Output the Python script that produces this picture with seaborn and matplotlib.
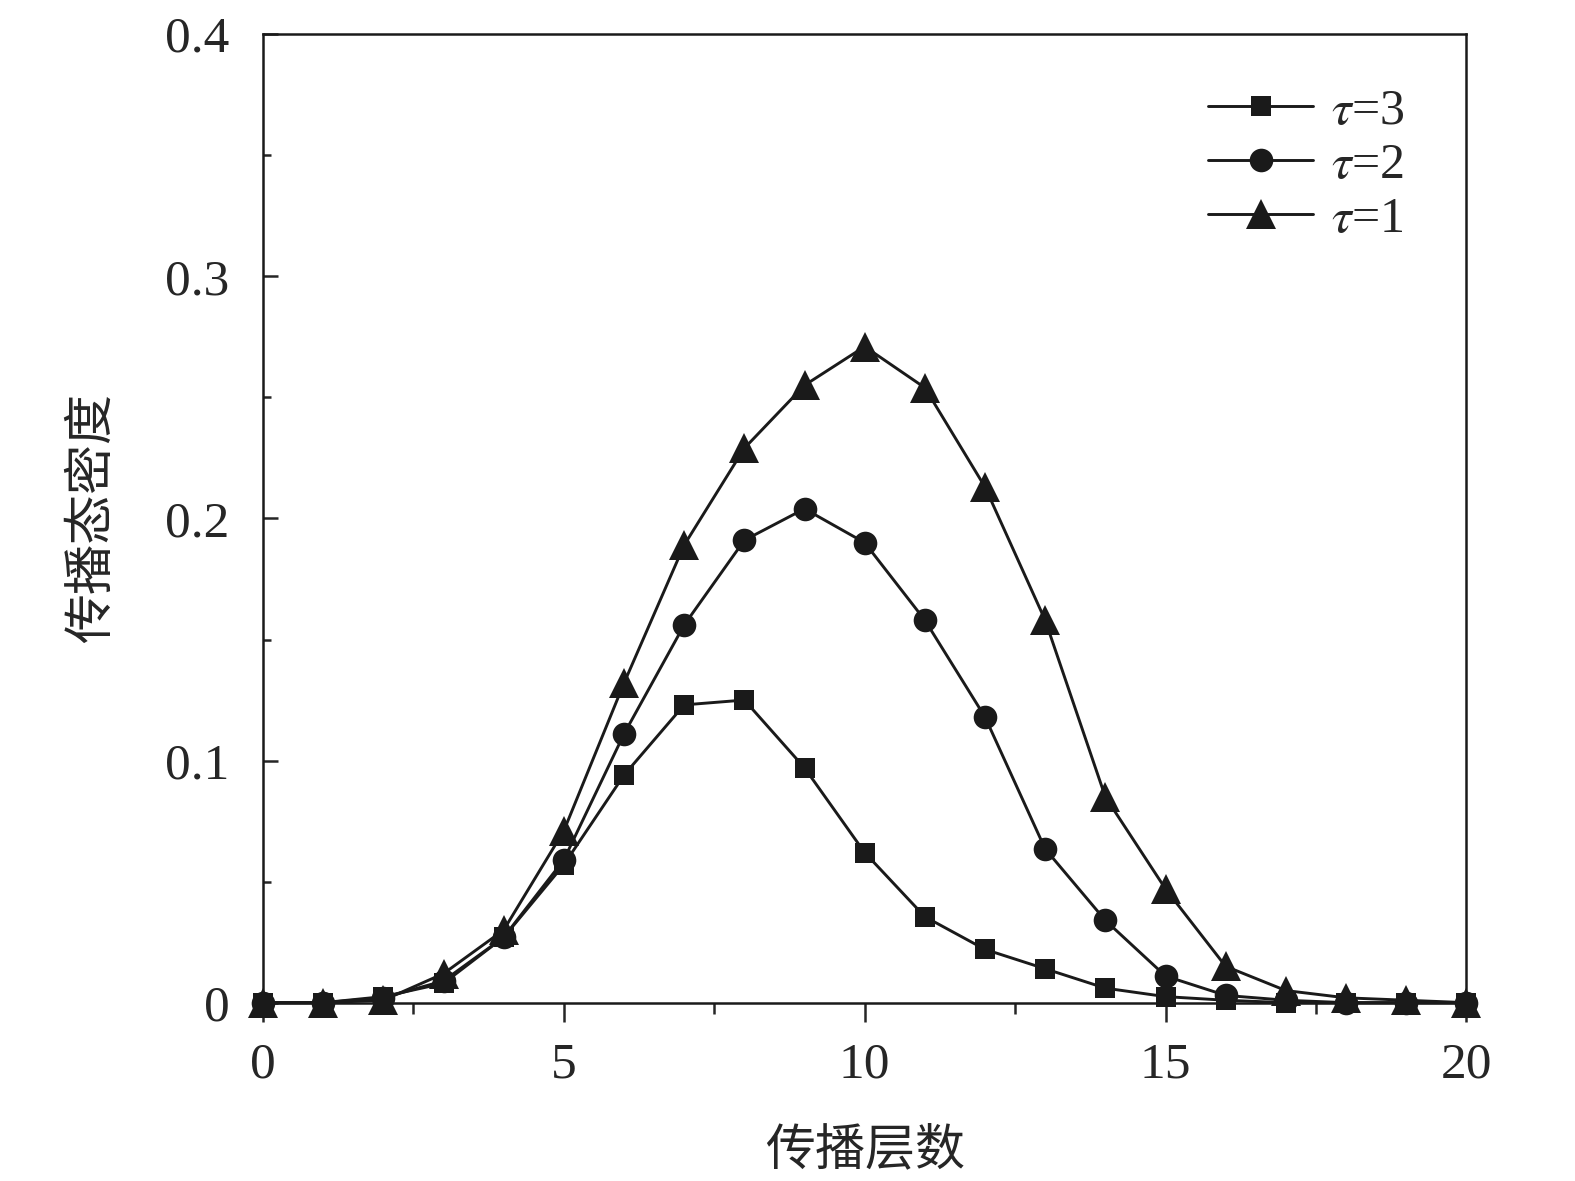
import numpy as np
import pandas as pd
import seaborn as sns
import matplotlib.pyplot as plt
from matplotlib.ticker import MultipleLocator, FixedLocator, FixedFormatter

# 传播层数
layers = list(range(21))

# tau = 3 (squares)
tau3 = [0.0, 0.0, 0.0025, 0.008, 0.027, 0.057, 0.094, 0.123, 0.125, 0.097, 0.062,
        0.0355, 0.022, 0.014, 0.006, 0.0025, 0.001, 0.0, 0.0, 0.0, 0.0]
# tau = 2 (circles)
tau2 = [0.0, 0.0, 0.002, 0.009, 0.027, 0.059, 0.111, 0.156, 0.191, 0.204, 0.19,
        0.158, 0.118, 0.0635, 0.034, 0.011, 0.003, 0.001, 0.0, 0.0, 0.0]
# tau = 1 (triangles)
tau1 = [0.0, 0.0, 0.001, 0.012, 0.03, 0.071, 0.132, 0.189, 0.229, 0.255, 0.271,
        0.254, 0.213, 0.158, 0.085, 0.047, 0.015, 0.005, 0.002, 0.001, 0.0]

series_labels = [r"$\tau$=3", r"$\tau$=2", r"$\tau$=1"]
y_ticks = [0, 0.1, 0.2, 0.3, 0.4]
y_ticklabels = ["0", "0.1", "0.2", "0.3", "0.4"]

sns.set_style("ticks")
plt.rcParams["font.family"] = ["Liberation Serif", "Noto Sans CJK SC"]
plt.rcParams["mathtext.fontset"] = "stix"

fig = plt.figure(figsize=(15.75, 11.81), dpi=100)
ax = fig.add_axes([0.167, 0.151, 0.764, 0.820])

styles = [("s", 15), ("o", 17), ("^", 21)]
for vals, lab, (mk, ms) in zip([tau3, tau2, tau1], series_labels, styles):
    df = pd.DataFrame({"x": layers, "y": vals})
    sns.lineplot(data=df, x="x", y="y", ax=ax, color="#1a1a1a", linewidth=2.1,
                 marker=mk, markersize=ms, markeredgewidth=0, label=lab,
                 clip_on=False, zorder=3)

ax.set_xlim(0, 20)
ax.set_ylim(0, 0.4)

ax.xaxis.set_major_locator(MultipleLocator(5))
ax.xaxis.set_minor_locator(MultipleLocator(2.5))
ax.yaxis.set_major_locator(FixedLocator(y_ticks))
ax.yaxis.set_major_formatter(FixedFormatter(y_ticklabels))
ax.yaxis.set_minor_locator(MultipleLocator(0.05))

ax.tick_params(axis="x", which="major", direction="out", length=14, width=1.8,
               labelsize=37, pad=14)
ax.tick_params(axis="x", which="minor", direction="out", length=8, width=1.8)
ax.tick_params(axis="y", which="major", direction="in", length=11, width=1.8,
               labelsize=37, pad=24)
ax.tick_params(axis="y", which="minor", direction="in", length=6, width=1.8)

for sp in ax.spines.values():
    sp.set_visible(True)
    sp.set_linewidth(1.8)
    sp.set_color("#1a1a1a")

ax.set_xlabel("传播层数", fontsize=36, family=["Noto Sans CJK SC"], labelpad=26)
ax.set_ylabel("传播态密度", fontsize=36, family=["Noto Sans CJK SC"], labelpad=34)

ax.legend(loc="upper right", frameon=False, fontsize=36, handlelength=2.1,
          handletextpad=0.35, labelspacing=0.15, borderaxespad=0,
          bbox_to_anchor=(0.965, 0.965))

fig.savefig("out.png", dpi=100)
